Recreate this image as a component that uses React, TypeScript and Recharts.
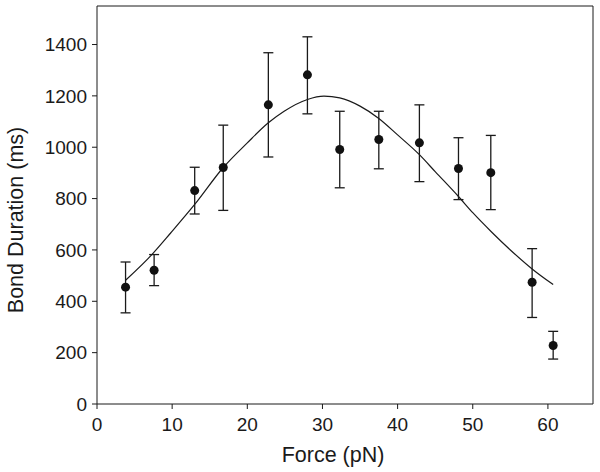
import React from "react";
import {
  ComposedChart,
  Scatter,
  Line,
  ErrorBar,
  XAxis,
  YAxis,
  ReferenceLine,
} from "recharts";

// measured points (force in pN, bond duration in ms)
const force = [3.8, 7.6, 13.0, 16.8, 22.8, 28.0, 32.3, 37.5, 42.9, 48.1, 52.4, 57.9, 60.7];
const duration = [455, 521, 831, 921, 1165, 1282, 991, 1030, 1017, 917, 901, 474, 228];
const errTop = [553, 582, 922, 1086, 1368, 1430, 1140, 1140, 1165, 1037, 1046, 605, 283];
const errBottom = [355, 461, 740, 754, 962, 1130, 842, 916, 866, 796, 757, 337, 175];

// fitted curve
const fitForce = [3.8, 7.3, 9.8, 13.0, 16.8, 20.0, 22.8, 24.9, 28.0, 30.2, 32.3, 35.0, 37.5, 40.0, 42.9, 45.0, 48.1, 50.0, 52.5, 55.0, 57.9, 60.7];
const fitDuration = [482, 582, 666, 777, 921, 1017, 1095, 1140, 1186, 1199, 1192, 1160, 1112, 1048, 971, 905, 808, 745, 670, 600, 526, 465];

const xTicks = [0, 10, 20, 30, 40, 50, 60];
const yTicks = [0, 200, 400, 600, 800, 1000, 1200, 1400];

const points = force.map((x, i) => ({
  x,
  y: duration[i],
  err: [duration[i] - errBottom[i], errTop[i] - duration[i]],
}));
const fit = fitForce.map((x, i) => ({ x, y: fitDuration[i] }));

const FONT = "'Liberation Sans', Arial, Helvetica, sans-serif";
const INK = "#1a1a1a";

export default function App() {
  return (
    <div style={{ position: "absolute", left: 0, top: 0, background: "#fff" }}>
      <ComposedChart
        width={600}
        height={472}
        margin={{ top: 6, right: 7, bottom: 0, left: 0 }}
        style={{ fontFamily: FONT }}
      >
        <XAxis
          type="number"
          dataKey="x"
          domain={[0, 66]}
          ticks={xTicks}
          allowDataOverflow
          height={68}
          stroke={INK}
          tickSize={5}
          tickMargin={9}
          tick={{ fill: INK, fontSize: 19 }}
          label={{
            value: "Force (pN)",
            position: "insideBottom",
            offset: 10,
            dx: -12,
            fill: INK,
            fontSize: 21.5,
          }}
        />
        <YAxis
          type="number"
          dataKey="y"
          domain={[0, 1550]}
          ticks={yTicks}
          allowDataOverflow
          width={97}
          stroke={INK}
          tickSize={5}
          tickMargin={5}
          tick={{ fill: INK, fontSize: 19 }}
          label={{
            value: "Bond Duration (ms)",
            angle: -90,
            position: "insideLeft",
            offset: 15,
            dy: 15,
            fill: INK,
            fontSize: 21.5,
            style: { textAnchor: "middle" },
          }}
        />
        <ReferenceLine y={1550} stroke={INK} strokeWidth={1} ifOverflow="extendDomain" />
        <ReferenceLine x={66} stroke={INK} strokeWidth={1} ifOverflow="extendDomain" />
        <Line
          data={fit}
          dataKey="y"
          type="monotone"
          stroke={INK}
          strokeWidth={1.2}
          dot={false}
          activeDot={false}
          isAnimationActive={false}
        />
        <Scatter data={points} dataKey="y" fill="#111" isAnimationActive={false}
          shape={(p: any) => <circle cx={p.cx} cy={p.cy} r={4.5} fill="#111" />}
        >
          <ErrorBar dataKey="err" direction="y" width={5} stroke={INK} strokeWidth={1.3} />
        </Scatter>
      </ComposedChart>
    </div>
  );
}
